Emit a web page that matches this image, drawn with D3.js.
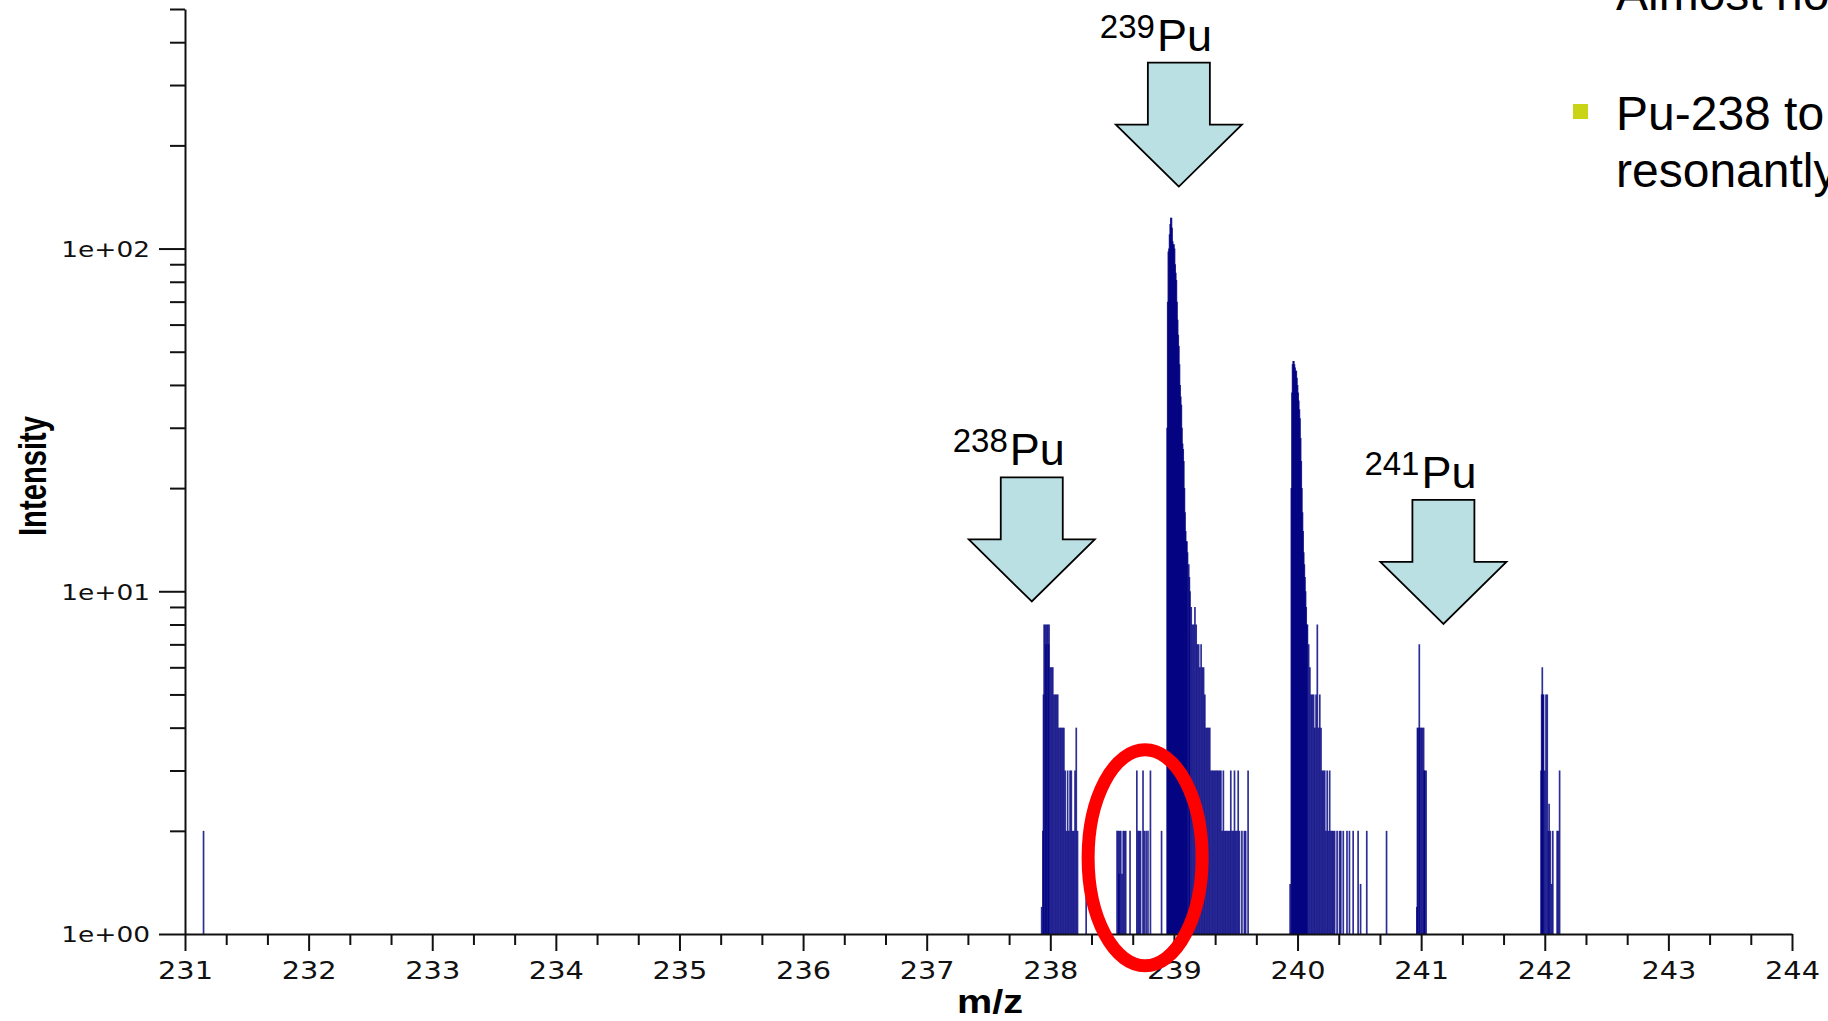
<!DOCTYPE html>
<html>
<head>
<meta charset="utf-8">
<script src="https://cdn.jsdelivr.net/npm/d3@7"></script>
<style>
  body { margin: 0; background: #fff; }
  svg { display: block; }
</style>
</head>
<body>
<script>
// stick spectrum, [m/z, intensity]
const cluster231 = [[231.15, 2]];

const cluster238 = [
  [237.93, 1.2], [237.94, 2], [237.945, 5], [237.95, 8], [237.96, 8], [237.965, 7],
  [237.97, 8], [237.98, 8], [237.985, 7], [237.99, 8], [238.00, 6], [238.01, 6],
  [238.02, 6], [238.03, 5], [238.04, 5], [238.05, 5], [238.06, 5], [238.07, 4],
  [238.08, 4], [238.09, 4], [238.10, 4], [238.11, 4], [238.12, 3], [238.13, 2],
  [238.14, 3], [238.15, 2], [238.16, 3], [238.17, 3], [238.18, 2], [238.19, 2],
  [238.20, 3], [238.21, 4], [238.22, 2], [238.29, 1.3]
];

// the few counts between 238 and 239 (the circled part)
const clusterGap = [
  [238.54, 2], [238.55, 2], [238.555, 1.5], [238.56, 2], [238.57, 2], [238.58, 1.5],
  [238.59, 2], [238.60, 2], [238.61, 2], [238.645, 2], [238.70, 3], [238.71, 2],
  [238.72, 2], [238.73, 2], [238.75, 3], [238.76, 2], [238.775, 2], [238.79, 2],
  [238.81, 3], [238.90, 2]
];

const cluster239 = [
  [238.945, 30], [238.95, 70], [238.955, 98], [238.96, 100], [238.965, 110], [238.97, 118],
  [238.975, 123], [238.98, 123], [238.985, 115], [238.99, 105], [238.995, 103], [239.00, 103],
  [239.005, 100], [239.01, 90], [239.015, 85], [239.02, 81], [239.025, 70], [239.03, 62],
  [239.035, 56], [239.04, 52], [239.045, 46], [239.05, 40], [239.055, 37], [239.06, 35],
  [239.065, 30], [239.07, 27], [239.075, 26], [239.08, 24], [239.085, 20], [239.09, 17],
  [239.095, 15], [239.10, 14], [239.105, 14], [239.11, 13], [239.12, 12], [239.125, 11],
  [239.13, 10], [239.14, 9], [239.15, 8], [239.16, 8], [239.17, 9], [239.18, 8],
  [239.19, 7], [239.20, 7], [239.21, 6], [239.22, 7], [239.23, 6], [239.24, 6],
  [239.25, 5], [239.26, 4], [239.27, 4], [239.28, 4], [239.29, 4], [239.30, 3],
  [239.31, 3], [239.32, 3], [239.33, 3], [239.34, 3], [239.35, 3], [239.36, 3],
  [239.37, 3], [239.38, 3], [239.39, 2], [239.40, 3], [239.41, 2], [239.42, 2],
  [239.43, 2], [239.44, 2], [239.45, 2], [239.46, 3], [239.47, 2], [239.48, 2],
  [239.49, 3], [239.50, 2], [239.51, 2], [239.52, 3], [239.53, 2], [239.55, 2],
  [239.57, 2], [239.58, 2], [239.60, 3]
];

const cluster240 = [
  [239.94, 1.4], [239.95, 20], [239.955, 38], [239.96, 46], [239.965, 47], [239.97, 47],
  [239.975, 46], [239.98, 45], [239.985, 44], [239.99, 44], [239.995, 42], [240.00, 40],
  [240.005, 38], [240.01, 36], [240.015, 34], [240.02, 32], [240.025, 28], [240.03, 24],
  [240.035, 20], [240.04, 17], [240.045, 15], [240.05, 13], [240.055, 12], [240.06, 11],
  [240.065, 10], [240.07, 9], [240.075, 8], [240.08, 8], [240.09, 7], [240.10, 6],
  [240.11, 5], [240.12, 5], [240.13, 5], [240.14, 4], [240.15, 5], [240.16, 8],
  [240.17, 4], [240.18, 5], [240.19, 4], [240.20, 3], [240.21, 3], [240.22, 3],
  [240.23, 2], [240.24, 3], [240.25, 2], [240.26, 3], [240.27, 2], [240.28, 2],
  [240.29, 2], [240.30, 2], [240.32, 2], [240.34, 2], [240.35, 2], [240.37, 2],
  [240.40, 2], [240.42, 2], [240.45, 2], [240.49, 2], [240.51, 1.4], [240.56, 2],
  [240.72, 2]
];

const cluster241 = [
  [240.965, 1.2], [240.97, 4], [240.975, 4], [240.985, 7], [240.99, 4], [241.00, 4],
  [241.01, 4], [241.02, 4], [241.025, 3], [241.03, 3], [241.04, 3]
];

const cluster242 = [
  [241.97, 3], [241.975, 5], [241.98, 6], [241.985, 5], [241.99, 5], [242.00, 3],
  [242.01, 5], [242.02, 5], [242.03, 2], [242.035, 2.4], [242.045, 2], [242.055, 1.4],
  [242.065, 2], [242.10, 2], [242.11, 2], [242.12, 3]
];

// axes
const xMajorTicks = d3.range(231, 245);
const xMinorTicks = d3.range(231, 244).flatMap(d => [d + 1 / 3, d + 2 / 3]);
const yMajorTicks = [1, 10, 100];
const yTickLabels = ["1e+00", "1e+01", "1e+02"];
const yMinorTicks = [2, 3, 4, 5, 6, 7, 8, 9, 20, 30, 40, 50, 60, 70, 80, 90, 200, 300, 400, 500];

// arrows: isotope, m/z and intensity where the arrow tip sits
const arrowIsotopes = ["238", "239", "241"];
const arrowMz = [237.85, 239.04, 241.18];
const arrowTip = [9.34, 151.7, 8.03];

// slide text at the right, partly cut off by the page edge
const slideLines = ["Almost no", "Pu-238 to", "resonantly"];

const width = 1828, height = 1021;
const svg = d3.select("body").append("svg")
  .attr("width", width)
  .attr("height", height);

const x = d3.scaleLinear().domain([231, 244]).range([185, 1792]);
const y = d3.scaleLog().domain([1, 500]).range([934, 9]);

const sticks = [].concat(cluster231, cluster238, clusterGap, cluster239, cluster240, cluster241, cluster242);

// the spectrum sticks, drawn from the baseline (1) up
svg.append("g")
  .selectAll("line")
  .data(sticks)
  .join("line")
  .attr("x1", d => x(d[0]))
  .attr("x2", d => x(d[0]))
  .attr("y1", y(1))
  .attr("y2", d => y(d[1]))
  .attr("stroke", "#000080")
  .attr("stroke-width", 1.7)
  .attr("stroke-opacity", 0.82);

// tick labels in the exported chart are stretched sideways
const stretch = 1.2;

const gx = svg.append("g").attr("transform", `translate(0,${y(1)})`);
gx.call(d3.axisBottom(x).tickValues(xMajorTicks).tickSize(17).tickSizeOuter(0).tickFormat(d3.format("d")));
gx.selectAll("text")
  .attr("y", 45).attr("dy", 0)
  .attr("transform", `scale(${stretch},1)`)
  .style("font-family", "'DejaVu Sans', Verdana, sans-serif")
  .style("font-size", "24px")
  .attr("fill", "#111");

const gxMinor = svg.append("g").attr("transform", `translate(0,${y(1)})`);
gxMinor.call(d3.axisBottom(x).tickValues(xMinorTicks).tickSize(11).tickFormat(""));
gxMinor.select(".domain").remove();

const gy = svg.append("g").attr("transform", `translate(${x(231)},0)`);
gy.call(d3.axisLeft(y).tickValues(yMajorTicks).tickSize(26).tickSizeOuter(0)
  .tickFormat((d, i) => yTickLabels[i]));
gy.selectAll("text")
  .attr("x", -35 / stretch).attr("dy", "0.36em")
  .attr("transform", `scale(${stretch},1)`)
  .style("font-family", "'DejaVu Sans', Verdana, sans-serif")
  .style("font-size", "22px")
  .attr("fill", "#111");

const gyMinor = svg.append("g").attr("transform", `translate(${x(231)},0)`);
gyMinor.call(d3.axisLeft(y).tickValues(yMinorTicks).tickSize(15).tickFormat(""));
gyMinor.select(".domain").remove();

svg.selectAll(".domain, .tick line")
  .attr("stroke", "#111")
  .attr("stroke-width", 2);

// axis titles
svg.append("text")
  .attr("transform", `translate(46,476) scale(${stretch},1) rotate(-90)`)
  .attr("text-anchor", "middle")
  .attr("textLength", 120)
  .attr("lengthAdjust", "spacingAndGlyphs")
  .style("font-family", "'Liberation Sans', Arial, sans-serif")
  .style("font-weight", "bold")
  .style("font-size", "32px")
  .text("Intensity");

svg.append("text")
  .attr("transform", `translate(990,1013) scale(${stretch},1)`)
  .attr("text-anchor", "middle")
  .style("font-family", "'Liberation Sans', Arial, sans-serif")
  .style("font-weight", "bold")
  .style("font-size", "33px")
  .text("m/z");

// red ring round the counts between the peaks
svg.append("ellipse")
  .attr("cx", x(238.767))
  .attr("cy", y(1.669))
  .attr("rx", 57)
  .attr("ry", 108)
  .attr("fill", "none")
  .attr("stroke", "#ff0000")
  .attr("stroke-width", 13);

// block arrows with isotope labels
const arrows = svg.append("g")
  .selectAll("g")
  .data(arrowIsotopes.map((iso, i) => ({ iso, mz: arrowMz[i], tip: arrowTip[i] })))
  .join("g")
  .attr("transform", d => `translate(${x(d.mz)},${y(d.tip)})`);

arrows.append("path")
  .attr("d", "M0,0 L-63,-62 L-31,-62 L-31,-124 L31,-124 L31,-62 L63,-62 Z")
  .attr("fill", "#bbe0e3")
  .attr("stroke", "#000")
  .attr("stroke-width", 1.8)
  .attr("stroke-linejoin", "miter");

const lab = arrows.append("text")
  .attr("x", -79)
  .attr("y", -136)
  .style("font-family", "'Liberation Sans', Arial, sans-serif")
  .attr("fill", "#000");
lab.append("tspan")
  .style("font-size", "33px")
  .attr("dy", -13)
  .text(d => d.iso);
lab.append("tspan")
  .style("font-size", "45px")
  .attr("dx", 2)
  .attr("dy", 13)
  .text("Pu");

// slide text on the right
const slide = svg.append("g")
  .style("font-family", "'Liberation Sans', Arial, sans-serif")
  .style("font-size", "48px")
  .attr("fill", "#000");
slide.selectAll("text")
  .data(slideLines)
  .join("text")
  .attr("x", 1616)
  .attr("y", (d, i) => [10, 130, 187][i])
  .text(d => d);
slide.append("rect")
  .attr("x", 1573).attr("y", 104)
  .attr("width", 15).attr("height", 15)
  .attr("fill", "#c9d417");
</script>
</body>
</html>
